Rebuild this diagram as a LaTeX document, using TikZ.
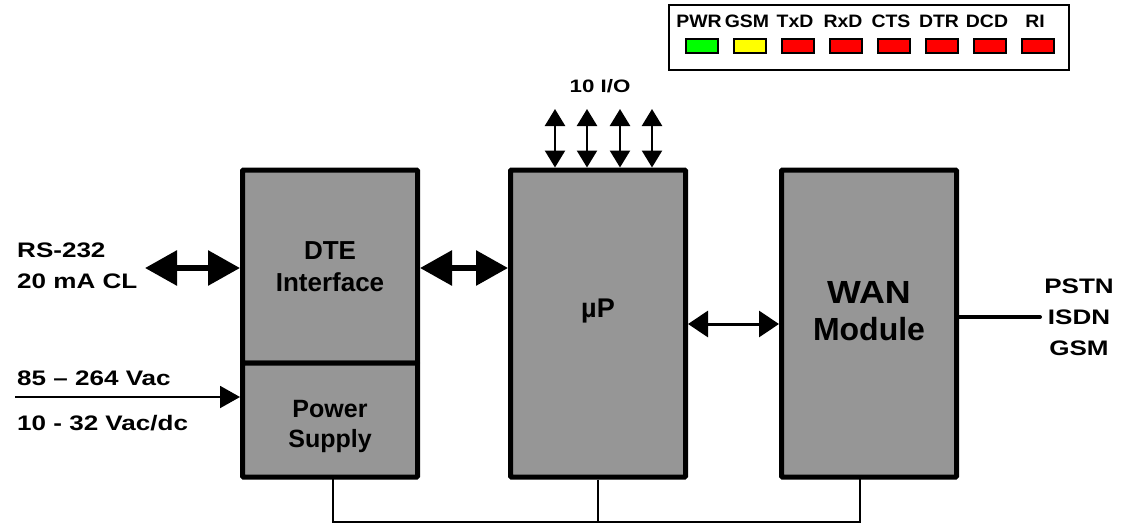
\documentclass[tikz,border=0pt]{standalone}
\usepackage{fontspec}
\setmainfont{Liberation Sans}
\usepackage{tikz}
\usetikzlibrary{arrows.meta,positioning,calc}
\definecolor{BoxGray}{HTML}{969696}
\definecolor{LedGreen}{HTML}{00FF00}
\definecolor{LedYellow}{HTML}{FFFF00}
\definecolor{LedRed}{HTML}{FF0000}
\newcommand{\sidefont}[1][21]{\fontsize{#1}{31}\selectfont\bfseries\addfontfeature{FakeStretch=1.24}}

\begin{document}
\begin{tikzpicture}[x=1pt, y=-1pt, font=\bfseries,
  blk/.style={draw, fill=BoxGray, line width=5pt, rounded corners=1pt, minimum width=175pt,
              align=center, inner sep=0pt, font=\fontsize{26}{32}\selectfont\bfseries},
  fat/.style={{Triangle[length=32pt,width=34pt]}-{Triangle[length=32pt,width=34pt]}, line width=6pt},
  mid/.style={{Triangle[length=20pt,width=26pt]}-{Triangle[length=20pt,width=26pt]}, line width=3pt},
  io/.style={{Triangle[length=17pt,width=20pt]}-{Triangle[length=17pt,width=20pt]}, line width=2.5pt},
  lbl/.style={anchor=base west, inner sep=0pt, font=\sidefont},
  led/.style={draw, line width=1.5pt, minimum width=32pt, minimum height=14pt, inner sep=0pt}]
\useasboundingbox (0,0) rectangle (1126,525);

% blocks
\node[blk, minimum height=193pt] (dte) at (330,266.5) {DTE\\Interface};
\node[blk, minimum height=114pt, font=\fontsize{25}{30}\selectfont\bfseries] (psu) at (330,420) {\rule{0pt}{30pt}Power\\Supply};
\node[blk, minimum height=307pt, font=\fontsize{27}{32}\selectfont\bfseries] (up) at (598,323.5) {\raisebox{6.5pt}[0pt][0pt]{\textmu P}};
\node[blk, minimum height=307pt, font=\fontsize{32}{37}\selectfont\bfseries] (wan) at (869,323.5) {\addfontfeature{FakeStretch=1.12}WAN\\Module\\[-11pt]};

% inputs on the left
\coordinate (rsin) at (145,268);
\coordinate (acin) at (15,397);
\node[lbl, align=left] (rs) at (17,288) {RS-232\\20 mA CL};
\node[lbl] (ac) at (17,385) {85 -- 264 Vac};
\node[lbl] (dc) at (17,430) {10 - 32 Vac/dc};
\draw[fat] (rsin) -- (rsin -| dte.west);
\draw[-{Triangle[length=20pt,width=22pt]}, line width=2pt] (acin) -- (acin -| psu.west);

% links between blocks
\draw[fat] (dte.east |- rsin) -- (up.west |- rsin);
\draw[mid] (up.east |- 0,324) -- (wan.west |- 0,324);

% I/O
\node[font={\sidefont[18]}] (iolbl) at (600,86) {10 I/O};
\foreach \xx [count=\i] in {555,587,620,652}
  \coordinate (io\i) at (\xx,109);
\foreach \i in {1,...,4}
  \draw[io] (io\i) -- (io\i |- up.north);

% line interface
\coordinate (lineout) at (1040,317);
\draw[line width=4pt, line cap=round] (wan.east |- lineout) -- (lineout);
\node[align=center, font=\sidefont, inner sep=0pt] (net) at (1079,317) {PSTN\\ISDN\\GSM};

% common bus
\coordinate (bus) at (0,522);
\draw[line width=1.5pt] (333,477) -- (333,522) -| (860,477);
\draw[line width=1.5pt] (up.south) -- (up.south |- bus);

% status LEDs
\node[draw, line width=2pt, minimum width=400pt, minimum height=65pt, inner sep=0pt] (panel) at (869,37.5) {};
\foreach \name/\col [count=\i] in {PWR/LedGreen, GSM/LedYellow, TxD/LedRed, RxD/LedRed,
    CTS/LedRed, DTR/LedRed, DCD/LedRed, RI/LedRed} {
  \node[font=\fontsize{18}{20}\selectfont\bfseries\addfontfeature{FakeStretch=1.08}, inner sep=0pt] (t\i) at ({699+48*(\i-1)},21) {\name};
  \node[led, fill=\col] (l\i) at ({702+48*(\i-1)},46) {};
}
\end{tikzpicture}
\end{document}
